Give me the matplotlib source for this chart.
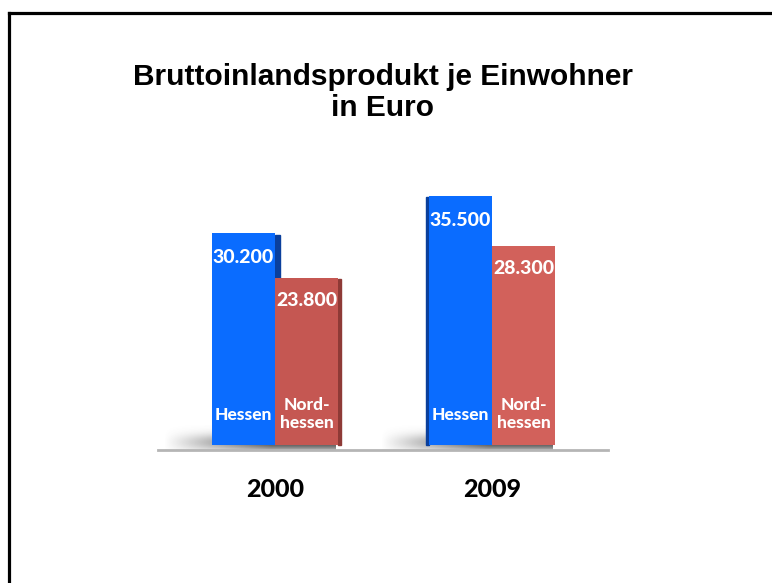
import numpy as np
import matplotlib.pyplot as plt
from matplotlib.lines import Line2D
from matplotlib.patches import Rectangle

years = ["2000", "2009"]
hessen = [30200, 35500]
nordhessen = [23800, 28300]
hessen_txt = ["30.200", "35.500"]
nord_txt = ["23.800", "28.300"]

blue = "#0a6cff"
blue_side = "#0a3f9c"
reds = ["#c55752", "#d2615b"]
red_side = "#8e3a36"

fig = plt.figure(figsize=(7.72, 5.83), dpi=100)

# black frame (left + top)
fig.add_artist(Line2D([0.0115, 0.0115], [0, 0.978], color="black", lw=2.3))
fig.add_artist(Line2D([0.0115, 1.0], [0.978, 0.978], color="black", lw=2.3))

fig.text(0.496, 0.841, "Bruttoinlandsprodukt je Einwohner\nin Euro",
         ha="center", va="center", fontsize=21.5, fontweight="bold",
         family="Liberation Sans", linespacing=1.13)

ax = fig.add_axes([0.2047, 0.2281, 0.583, 0.4889])
ax.set_xlim(-0.539, 1.535)
ax.set_ylim(-713, 39914)

w = 0.29
x = np.arange(len(years))

# soft shadows at the base of each group
yy = np.linspace(0, 1, 60)[:, None]
xx = np.linspace(0, 1, 200)[None, :]
alpha = np.exp(-((yy - 0.3) / 0.35) ** 2) * np.clip(xx * 1.6, 0, 1) * 0.95
shade = np.zeros((60, 200, 4))
shade[..., :3] = 0.3
shade[..., 3] = alpha
for i in x:
    ax.imshow(shade, extent=(i - w - 0.22, i + w - 0.01, -700, 2800),
              origin="lower", aspect="auto", zorder=1, interpolation="bilinear")

ax.bar(x - w / 2, hessen, w, color=blue, zorder=3)
ax.bar(x + w / 2, nordhessen, w, color=reds, zorder=3)

# 3D side strips
ax.add_patch(Rectangle((0, nordhessen[0]), 0.024, hessen[0] - nordhessen[0] - 200,
                       color=blue_side, zorder=2))
ax.add_patch(Rectangle((w, 0), 0.014, nordhessen[0] - 200, color=red_side, zorder=2))
ax.add_patch(Rectangle((1 - w - 0.016, 0), 0.016, hessen[1] - 200,
                       color=blue_side, zorder=2))

lbl = dict(ha="center", va="center", color="white", fontweight="black",
           family="Lato", zorder=5)
for i in x:
    ax.text(i - w / 2, hessen[i] - 3500, hessen_txt[i], fontsize=14, **lbl)
    ax.text(i + w / 2, nordhessen[i] - 3200, nord_txt[i], fontsize=14, **lbl)
    ax.text(i - w / 2, 4300, "Hessen", fontsize=12.5, **lbl)
    ax.text(i + w / 2, 4400, "Nord-\nhessen", fontsize=12.5, linespacing=1.1, **lbl)

for s in ["top", "left", "right"]:
    ax.spines[s].set_visible(False)
ax.spines["bottom"].set_color("#b5b5b5")
ax.spines["bottom"].set_linewidth(2)
ax.set_yticks([])
ax.set_xticks(x)
ax.set_xticklabels(years, fontsize=18, fontweight="black", family="Lato")
ax.tick_params(axis="x", length=0, pad=20)
ax.patch.set_alpha(0)

fig.savefig("out.png", dpi=100)
